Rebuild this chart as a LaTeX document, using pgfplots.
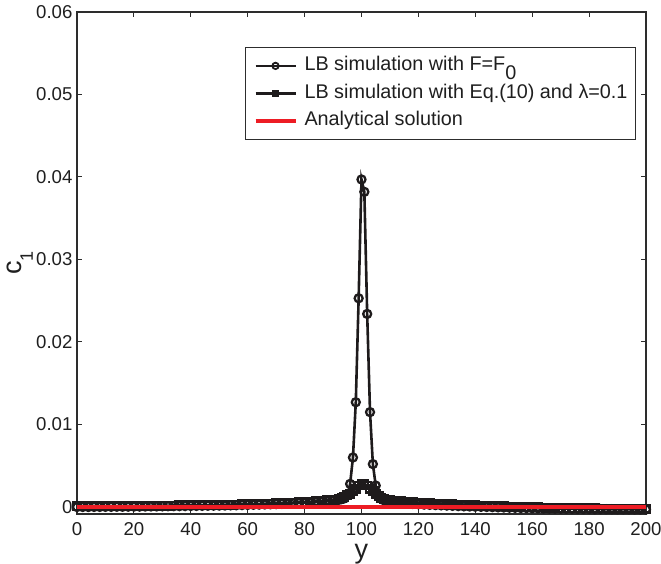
\documentclass[border=0pt]{standalone}
\usepackage{fontspec}
\setmainfont{Liberation Sans}
\usepackage{pgfplots}
\pgfplotsset{compat=1.18}
\definecolor{lbk}{RGB}{30,27,28}
\definecolor{lred}{RGB}{237,28,36}
\definecolor{axc}{RGB}{45,45,45}
\begin{document}
\begin{tikzpicture}
\useasboundingbox (-38.5pt,-25pt) rectangle (292pt,257pt);
\begin{axis}[
  scale only axis, width=284.5pt, height=251pt,
  at={(0pt,0pt)}, anchor=south west,
  clip=false, clip marker paths=true,
  xmin=0, xmax=200, ymin=-0.00085, ymax=0.06,
  xtick={0,20,40,60,80,100,120,140,160,180,200},
  ytick={0,0.01,0.02,0.03,0.04,0.05,0.06},
  yticklabels={0,0.01,0.02,0.03,0.04,0.05,0.06},
  /pgf/number format/assume math mode=true,
  tick align=inside, tick pos=both, ticklabel pos=left,
  major tick length=2.5pt,
  axis line style={axc, line width=0.6pt},
  tick style={axc, line width=0.5pt},
  tick label style={font=\fontsize{9.3}{11}\selectfont, text=black!88},
  yticklabel style={inner xsep=0pt, xshift=-2.1pt},
  xticklabel style={inner ysep=0pt, yshift=-4.1pt},
  xlabel={y},
  ylabel={c\raisebox{-0.42em}{\fontsize{9}{10}\selectfont 1}},
  xlabel style={at={(axis description cs:0.5,-0.081)}, anchor=center, font=\fontsize{13.5}{15}\selectfont, inner sep=0pt, text=black!88},
  ylabel style={at={(axis description cs:-0.1002,0.5)}, anchor=center, rotate=0, font=\fontsize{13.5}{15}\selectfont, inner sep=0pt, text=black!88},
  legend style={at={(axis description cs:0.2953,0.9303)}, anchor=north west,
    draw=axc, line width=0.5pt, fill=white,
    font=\fontsize{9.9}{11}\selectfont, text=black!88,
    inner xsep=4pt, inner ysep=4.8pt, row sep=5pt, column sep=3.5pt,
    nodes={inner sep=0pt, text height=6.8pt, text depth=2pt},
    cells={anchor=west}},
]
% LB simulation with F=F0
\addplot[lbk, line width=1.3pt, mark=o, mark size=2pt, mark options={line width=1.15pt, fill=none, solid},
  legend image code/.code={\draw[lbk, line width=1.1pt] (0pt,0pt) -- (20pt,0pt); \draw[lbk, line width=0.9pt] (10pt,0pt) circle (1.6pt);}]
coordinates {
(0,0.0000) (2,0.0000) (4,0.0000) (6,0.00001) (8,0.00001) (10,0.00002) (12,0.00002) (14,0.00003) (16,0.00003) (18,0.00004)
(20,0.00005) (22,0.00005) (24,0.00006) (26,0.00007) (28,0.00007) (30,0.00008) (32,0.00009) (34,0.0001) (36,0.0001) (38,0.00011)
(40,0.00012) (42,0.00013) (44,0.00014) (46,0.00015) (48,0.00016) (50,0.00017) (52,0.00018) (54,0.0002) (56,0.00021) (58,0.00023)
(60,0.00025) (62,0.00027) (64,0.00029) (66,0.00031) (68,0.00033) (70,0.00035) (72,0.00038) (74,0.00041) (76,0.00044) (78,0.00047)
(80,0.0005) (82,0.00054) (84,0.00058) (86,0.00063) (88,0.00069) (90,0.00076) (92,0.00086) (93,0.00095) (94,0.00105) (95,0.0014)
(96,0.0028) (97,0.0060) (98,0.0127) (99,0.0253) (100,0.0397) (101,0.0382) (102,0.0234) (103,0.0115) (104,0.0052) (105,0.0026)
(106,0.0014) (107,0.0010) (108,0.0008) (110,0.00065) (112,0.00055) (114,0.00048) (116,0.00042) (118,0.00037) (120,0.00033)
(122,0.00029) (124,0.00026) (126,0.00023) (128,0.0002) (130,0.00017) (132,0.00014) (134,0.00011) (136,0.00008) (138,0.00006)
(140,0.00004) (142,0.00002) (144,0.0) (146,-0.00002) (148,-0.00004) (150,-0.00006) (152,-0.00008) (154,-0.0001) (156,-0.00012)
(158,-0.00013) (160,-0.00015) (162,-0.00016) (164,-0.00018) (166,-0.00019) (168,-0.0002) (170,-0.00021) (172,-0.00022)
(174,-0.00023) (176,-0.00024) (178,-0.00025) (180,-0.00025) (182,-0.00026) (184,-0.00026) (186,-0.00027) (188,-0.00027)
(190,-0.00028) (192,-0.00028) (194,-0.00028) (196,-0.00029) (198,-0.00029) (200,-0.0003)
};
\addlegendentry{LB simulation with F=F\raisebox{-0.45em}{0}}
% LB simulation with Eq.(10) and lambda=0.1
\addplot[lbk, line width=1.3pt, mark=square, mark size=1.9pt, mark options={line width=1.15pt, fill=none, solid},
  legend image code/.code={\draw[lbk, line width=1.1pt] (0pt,0pt) -- (20pt,0pt); \draw[lbk, line width=0.9pt] (8.5pt,-1.4pt) rectangle (11.5pt,1.4pt);}]
coordinates {
(0,0.00008) (2,0.00008) (4,0.00009) (6,0.00009) (8,0.0001) (10,0.0001) (12,0.00011) (14,0.00011) (16,0.00012) (18,0.00012)
(20,0.00013) (22,0.00014) (24,0.00014) (26,0.00015) (28,0.00016) (30,0.00017) (32,0.00017) (34,0.00018) (36,0.00019) (38,0.0002)
(40,0.0002) (42,0.00021) (44,0.00022) (46,0.00023) (48,0.00025) (50,0.00026) (52,0.00027) (54,0.00029) (56,0.0003) (58,0.00032)
(60,0.00034) (62,0.00036) (64,0.00038) (66,0.0004) (68,0.00042) (70,0.00045) (72,0.00048) (74,0.00051) (76,0.00054) (78,0.00057)
(80,0.0006) (82,0.00064) (84,0.00069) (86,0.00075) (88,0.00082) (90,0.0009) (92,0.001) (93,0.0011) (94,0.0012) (95,0.0014)
(96,0.0016) (97,0.0019) (98,0.0022) (99,0.0026) (100,0.0028) (101,0.0028) (102,0.0026) (103,0.0022) (104,0.0019) (105,0.0016)
(106,0.0013) (107,0.0011) (108,0.001) (110,0.00085) (112,0.00075) (114,0.00068) (116,0.00062) (118,0.00057) (120,0.00052)
(122,0.00048) (124,0.00045) (126,0.00042) (128,0.00039) (130,0.00036) (132,0.00033) (134,0.0003) (136,0.00027) (138,0.00024)
(140,0.00021) (142,0.00018) (144,0.00015) (146,0.00012) (148,0.0001) (150,0.00008) (152,0.00006) (154,0.00004) (156,0.00002)
(158,0.0) (160,-0.00002) (162,-0.00004) (164,-0.00006) (166,-0.00008) (168,-0.0001) (170,-0.00011) (172,-0.00012) (174,-0.00013)
(176,-0.00014) (178,-0.00015) (180,-0.00016) (182,-0.00017) (184,-0.00018) (186,-0.00018) (188,-0.00019) (190,-0.0002)
(192,-0.0002) (194,-0.0002) (196,-0.0002) (198,-0.0002) (200,-0.0002)
};
\addlegendentry{LB simulation with Eq.(10) and λ=0.1}
% Analytical solution
\addplot[lred, line width=2pt, no marks,
  legend image code/.code={\draw[lred, line width=2pt] (0pt,0pt) -- (20pt,0pt);}]
coordinates {(0,0) (50,0) (100,0) (150,0) (200,0)};
\addlegendentry{Analytical solution}
\end{axis}
\end{tikzpicture}
\end{document}
